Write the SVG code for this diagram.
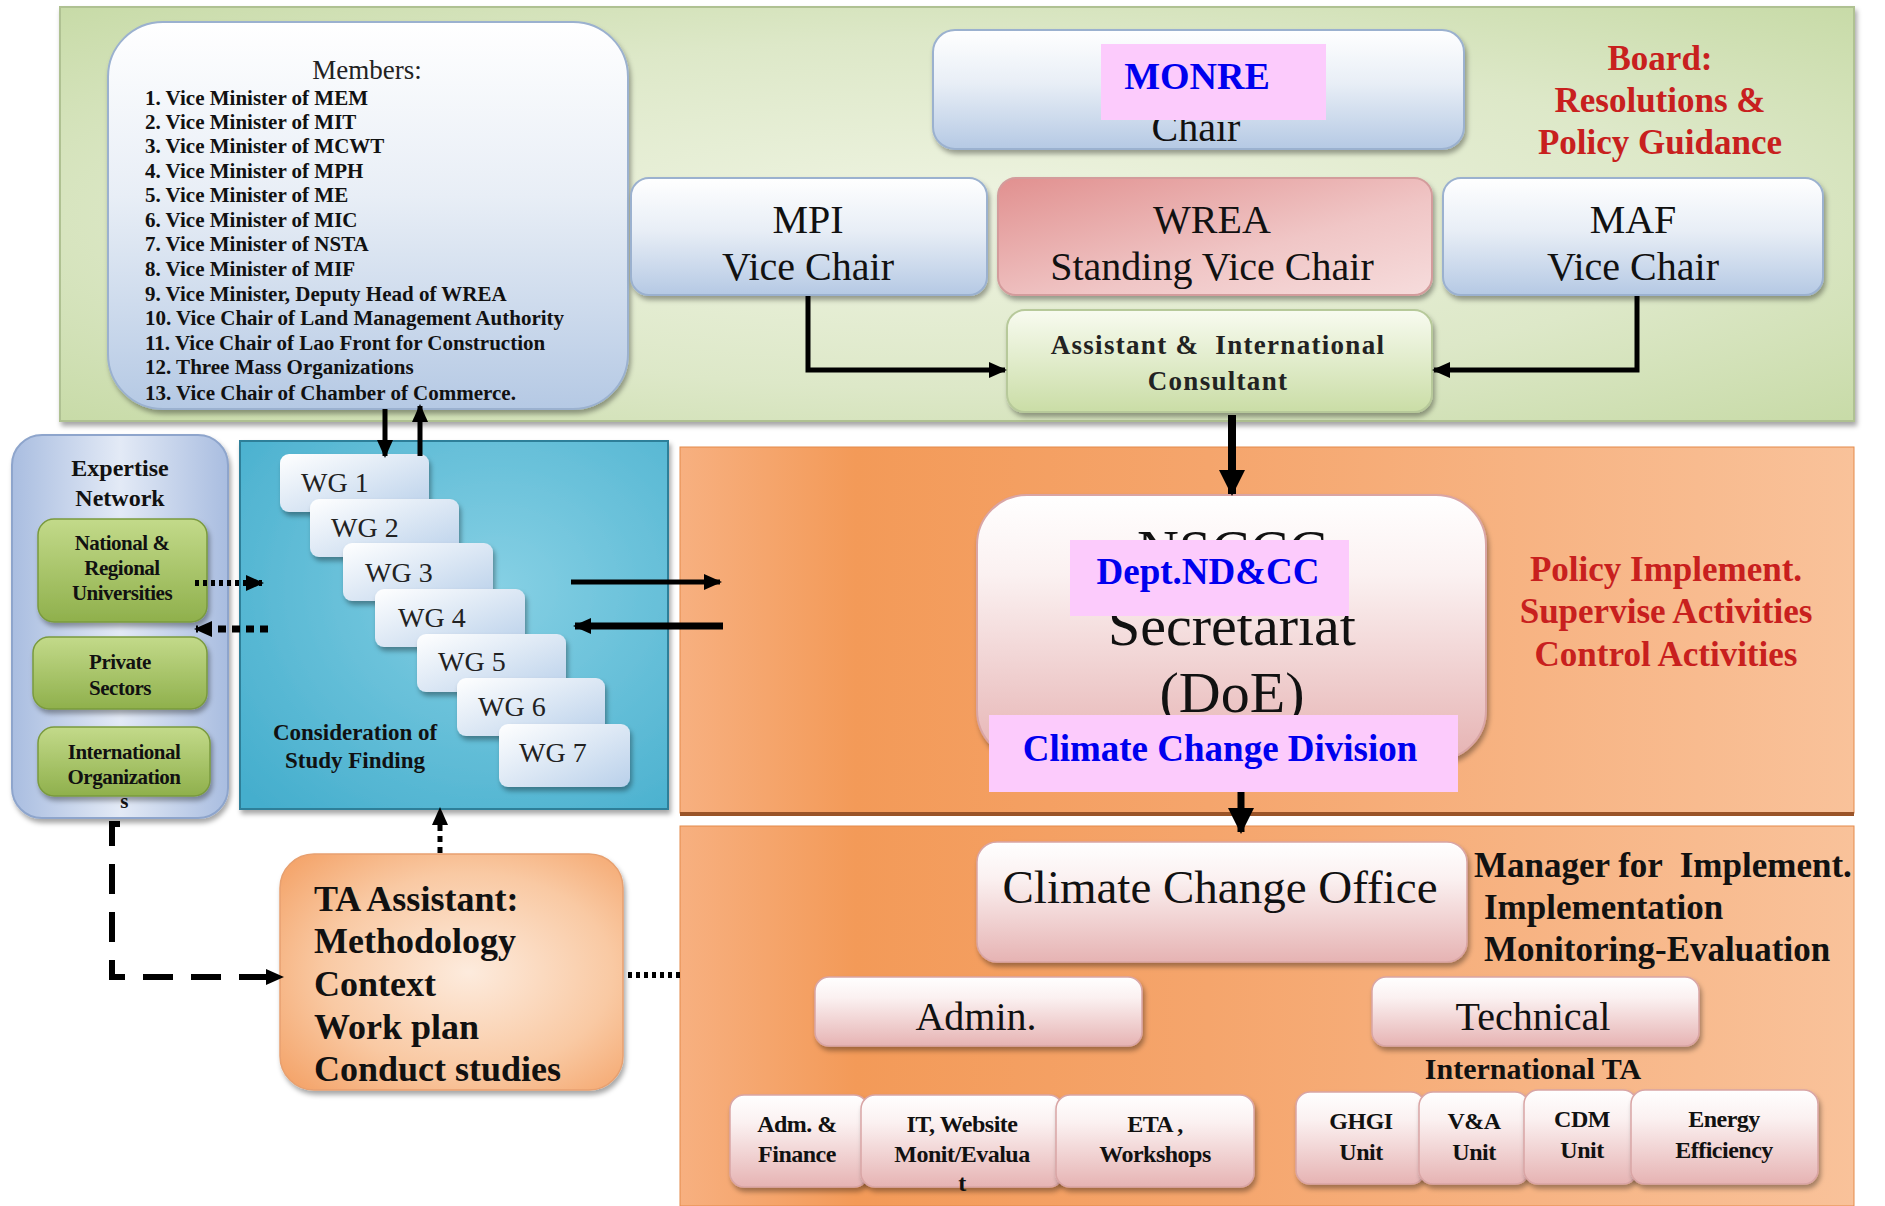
<svg xmlns="http://www.w3.org/2000/svg" width="1885" height="1206" viewBox="0 0 1885 1206">
<defs>
<style>
.sr{font-family:"Liberation Serif","Times New Roman",serif;}
.b{font-weight:bold;}
.c{text-anchor:middle;}
.pre{white-space:pre;}
.mem{font-family:"Liberation Serif",serif;font-weight:bold;font-size:21px;fill:#111;}
.big{font-family:"Liberation Serif",serif;font-size:40px;fill:#111;text-anchor:middle;}
.red{font-family:"Liberation Serif",serif;font-weight:bold;font-size:35px;fill:#C8201E;text-anchor:middle;}
.blue{font-family:"Liberation Serif",serif;font-weight:bold;fill:#0000EE;text-anchor:middle;}
.wg{font-family:"Liberation Serif",serif;font-size:28px;fill:#222;}
.unit{font-family:"Liberation Serif",serif;font-weight:bold;font-size:24px;fill:#111;text-anchor:middle;letter-spacing:-0.5px;}
.exp{font-family:"Liberation Serif",serif;font-weight:bold;font-size:21px;fill:#111;text-anchor:middle;letter-spacing:-0.5px;}
.ln{fill:none;stroke:#000;}
.sh{filter:url(#shadow);}
</style>
<filter id="shadow" x="-10%" y="-10%" width="125%" height="130%">
<feDropShadow dx="2" dy="4" stdDeviation="2.5" flood-color="#000" flood-opacity="0.35"/>
</filter>
<radialGradient id="gGreenPanel" cx="0.5" cy="0.5" r="0.7">
<stop offset="0" stop-color="#EFF4E2"/>
<stop offset="0.6" stop-color="#DDE8C8"/>
<stop offset="1" stop-color="#C8DBA8"/>
</radialGradient>
<linearGradient id="gOrange" x1="0" y1="0" x2="1" y2="0">
<stop offset="0" stop-color="#F7B080"/>
<stop offset="0.15" stop-color="#F39A58"/>
<stop offset="0.45" stop-color="#F5A56C"/>
<stop offset="1" stop-color="#F9C29A"/>
</linearGradient>
<linearGradient id="gBlue" x1="0" y1="0" x2="0" y2="1">
<stop offset="0" stop-color="#FFFFFF"/>
<stop offset="0.45" stop-color="#E8EEF6"/>
<stop offset="1" stop-color="#B5C9E4"/>
</linearGradient>
<linearGradient id="gWrea" x1="0" y1="0" x2="1" y2="1">
<stop offset="0" stop-color="#E1908F"/>
<stop offset="0.6" stop-color="#F0C6C6"/>
<stop offset="1" stop-color="#F6DCDC"/>
</linearGradient>
<linearGradient id="gAssist" x1="0" y1="0" x2="0" y2="1">
<stop offset="0" stop-color="#F8FBF0"/>
<stop offset="1" stop-color="#CADDA6"/>
</linearGradient>
<linearGradient id="gExpPanel" x1="0" y1="0" x2="1" y2="0">
<stop offset="0" stop-color="#A9BDE0"/>
<stop offset="0.5" stop-color="#E3EAF6"/>
<stop offset="1" stop-color="#A9BDE0"/>
</linearGradient>
<linearGradient id="gExpBox" x1="0" y1="0" x2="0" y2="1">
<stop offset="0" stop-color="#C3DA8A"/>
<stop offset="1" stop-color="#8FB04C"/>
</linearGradient>
<radialGradient id="gTeal" cx="0.6" cy="0.4" r="0.8">
<stop offset="0" stop-color="#86D0E4"/>
<stop offset="1" stop-color="#45AECD"/>
</radialGradient>
<linearGradient id="gWG" x1="0" y1="0" x2="1" y2="1">
<stop offset="0" stop-color="#FFFFFF"/>
<stop offset="1" stop-color="#B9D0EA"/>
</linearGradient>
<linearGradient id="gPink" x1="0" y1="0" x2="0" y2="1">
<stop offset="0" stop-color="#FFFFFF"/>
<stop offset="0.3" stop-color="#FBF1F1"/>
<stop offset="1" stop-color="#E6B3B3"/>
</linearGradient>
<radialGradient id="gPeach" cx="0.55" cy="0.5" r="0.7">
<stop offset="0" stop-color="#FDEBDD"/>
<stop offset="0.6" stop-color="#F9C9A3"/>
<stop offset="1" stop-color="#F4A46A"/>
</radialGradient>
<marker id="ah" markerUnits="userSpaceOnUse" markerWidth="18" markerHeight="16" refX="16" refY="8" orient="auto">
<path d="M0,0 L18,8 L0,16 z" fill="#000"/>
</marker>
<marker id="ahL" markerUnits="userSpaceOnUse" markerWidth="26" markerHeight="26" refX="24" refY="13" orient="auto">
<path d="M0,0 L26,13 L0,26 z" fill="#000"/>
</marker>
</defs>

<rect width="1885" height="1206" fill="#FFFFFF"/>

<!-- panels -->
<g id="board-panel">
<rect x="60" y="7" width="1794" height="414" fill="url(#gGreenPanel)" stroke="#AFC192" stroke-width="2" class="sh"/>
</g>
<g id="implement-panel">
<rect x="680" y="447" width="1174" height="366" fill="url(#gOrange)" stroke="#E48A4A" stroke-width="1"/>
<line x1="680" y1="814" x2="1854" y2="814" stroke="#9A5428" stroke-width="4"/>
</g>
<g id="office-panel">
<rect x="680" y="826" width="1174" height="380" fill="url(#gOrange)" stroke="#E48A4A" stroke-width="1"/>
</g>

<!-- Board nodes -->
<g id="members">
<rect x="108" y="22" width="520" height="387" rx="55" fill="url(#gBlue)" stroke="#9BB1CF" stroke-width="2" class="sh"/>
<text class="sr c" x="367" y="79" font-size="27" fill="#222">Members:</text>
<text class="mem" x="145" y="105">1. Vice Minister of MEM</text>
<text class="mem" x="145" y="129">2. Vice Minister of MIT</text>
<text class="mem" x="145" y="153">3. Vice Minister of MCWT</text>
<text class="mem" x="145" y="178">4. Vice Minister of MPH</text>
<text class="mem" x="145" y="202">5. Vice Minister of ME</text>
<text class="mem" x="145" y="227">6. Vice Minister of MIC</text>
<text class="mem" x="145" y="251">7. Vice Minister of NSTA</text>
<text class="mem" x="145" y="276">8. Vice Minister of MIF</text>
<text class="mem" x="145" y="301">9. Vice Minister, Deputy Head of WREA</text>
<text class="mem" x="145" y="325">10. Vice Chair of Land Management Authority</text>
<text class="mem" x="145" y="350">11. Vice Chair of Lao Front for Construction</text>
<text class="mem" x="145" y="374">12. Three Mass Organizations</text>
<text class="mem" x="145" y="400">13. Vice Chair of Chamber of Commerce.</text>
</g>

<g id="monre-chair">
<rect x="933" y="30" width="531" height="119" rx="22" fill="url(#gBlue)" stroke="#9BB1CF" stroke-width="2" class="sh"/>
<text class="big" x="1196" y="141" font-size="48">Chair</text>
<rect x="1101" y="44" width="225" height="76" fill="#FCCBFC"/>
<text class="blue" x="1197" y="89" font-size="38">MONRE</text>
</g>

<g id="board-label">
<text class="red" x="1660" y="70">Board:</text>
<text class="red" x="1660" y="112">Resolutions &amp;</text>
<text class="red" x="1660" y="154">Policy Guidance</text>
</g>

<g id="mpi">
<rect x="631" y="178" width="356" height="117" rx="18" fill="url(#gBlue)" stroke="#9BB1CF" stroke-width="2" class="sh"/>
<text class="big" x="808" y="233">MPI</text>
<text class="big" x="808" y="280">Vice Chair</text>
</g>
<g id="wrea">
<rect x="998" y="178" width="434" height="117" rx="18" fill="url(#gWrea)" stroke="#D39C9C" stroke-width="2" class="sh"/>
<text class="big" x="1212" y="233">WREA</text>
<text class="big" x="1212" y="280">Standing Vice Chair</text>
</g>
<g id="maf">
<rect x="1443" y="178" width="380" height="117" rx="18" fill="url(#gBlue)" stroke="#9BB1CF" stroke-width="2" class="sh"/>
<text class="big" x="1633" y="233">MAF</text>
<text class="big" x="1633" y="280">Vice Chair</text>
</g>
<g id="assistant">
<rect x="1007" y="310" width="425" height="102" rx="18" fill="url(#gAssist)" stroke="#B7C99A" stroke-width="2" class="sh"/>
<text class="sr b c pre" x="1218" y="354" font-size="27" letter-spacing="1.3" fill="#222">Assistant &amp;  International</text>
<text class="sr b c" x="1218" y="390" font-size="27" letter-spacing="1.3" fill="#222">Consultant</text>
</g>

<!-- Expertise network -->
<g id="expertise-network">
<rect x="12" y="435" width="216" height="383" rx="30" fill="url(#gExpPanel)" stroke="#8EA5CC" stroke-width="2" class="sh"/>
<text class="sr b c" x="120" y="476" font-size="24" fill="#111">Expertise</text>
<text class="sr b c" x="120" y="506" font-size="24" fill="#111">Network</text>
</g>
<g id="universities">
<rect x="38" y="519" width="169" height="103" rx="16" fill="url(#gExpBox)" stroke="#7A9A3E" stroke-width="1.5" class="sh"/>
<text class="exp" x="122" y="550">National &amp;</text>
<text class="exp" x="122" y="575">Regional</text>
<text class="exp" x="122" y="600">Universities</text>
</g>
<g id="private-sectors">
<rect x="33" y="637" width="174" height="72" rx="16" fill="url(#gExpBox)" stroke="#7A9A3E" stroke-width="1.5" class="sh"/>
<text class="exp" x="120" y="669">Private</text>
<text class="exp" x="120" y="695">Sectors</text>
</g>
<g id="intl-org">
<rect x="38" y="727" width="172" height="69" rx="16" fill="url(#gExpBox)" stroke="#7A9A3E" stroke-width="1.5" class="sh"/>
<text class="exp" x="124" y="759">International</text>
<text class="exp" x="124" y="784">Organization</text>
<text class="exp" x="124" y="808" font-size="15">s</text>
</g>

<!-- Working groups -->
<g id="wg-panel">
<rect x="240" y="441" width="428" height="368" fill="url(#gTeal)" stroke="#2E7F99" stroke-width="2" class="sh"/>
<text class="sr b c" x="355" y="740" font-size="23" fill="#111">Consideration of</text>
<text class="sr b c" x="355" y="768" font-size="23" fill="#111">Study Finding</text>
</g>
<g id="wg1"><rect x="280" y="454" width="149" height="58" rx="9" fill="url(#gWG)" class="sh"/><text class="wg" x="301" y="492">WG 1</text></g>
<g id="wg2"><rect x="310" y="499" width="149" height="58" rx="9" fill="url(#gWG)" class="sh"/><text class="wg" x="331" y="537">WG 2</text></g>
<g id="wg3"><rect x="343" y="543" width="150" height="58" rx="9" fill="url(#gWG)" class="sh"/><text class="wg" x="365" y="582">WG 3</text></g>
<g id="wg4"><rect x="375" y="589" width="150" height="58" rx="9" fill="url(#gWG)" class="sh"/><text class="wg" x="398" y="627">WG 4</text></g>
<g id="wg5"><rect x="417" y="634" width="149" height="58" rx="9" fill="url(#gWG)" class="sh"/><text class="wg" x="438" y="671">WG 5</text></g>
<g id="wg6"><rect x="457" y="678" width="148" height="58" rx="9" fill="url(#gWG)" class="sh"/><text class="wg" x="478" y="716">WG 6</text></g>
<g id="wg7"><rect x="499" y="724" width="131" height="63" rx="9" fill="url(#gWG)" class="sh"/><text class="wg" x="519" y="762">WG 7</text></g>

<!-- TA Assistant -->
<g id="ta-assistant">
<rect x="280" y="854" width="343" height="236" rx="34" fill="url(#gPeach)" stroke="#E7A070" stroke-width="1.5" class="sh"/>
<text class="sr b" x="314" y="911" font-size="36" fill="#111">TA Assistant:</text>
<text class="sr b" x="314" y="953" font-size="36" fill="#111">Methodology</text>
<text class="sr b" x="314" y="996" font-size="36" fill="#111">Context</text>
<text class="sr b" x="314" y="1039" font-size="36" fill="#111">Work plan</text>
<text class="sr b" x="314" y="1081" font-size="36" fill="#111">Conduct studies</text>
</g>

<!-- Secretariat -->
<g id="nsccc-secretariat">
<rect x="977" y="495" width="509" height="265" rx="50" fill="url(#gPink)" stroke="#D9A5A5" stroke-width="2" class="sh"/>
<text class="sr c" x="1232" y="570" font-size="58" fill="#111">NSCCC</text>
<text class="sr c" x="1232" y="645" font-size="58" fill="#111">Secretariat</text>
<text class="sr c" x="1232" y="712" font-size="58" fill="#111">(DoE)</text>
<rect x="1070" y="540" width="279" height="76" fill="#FCCBFC"/>
<text class="blue" x="1208" y="584" font-size="37">Dept.ND&amp;CC</text>
<rect x="989" y="715" width="469" height="77" fill="#FCCBFC"/>
<text class="blue" x="1220" y="761" font-size="37">Climate Change Division</text>
</g>
<g id="policy-label">
<text class="red" x="1666" y="581">Policy Implement.</text>
<text class="red" x="1666" y="623">Supervise Activities</text>
<text class="red" x="1666" y="666">Control Activities</text>
</g>

<!-- Office -->
<g id="climate-change-office">
<rect x="977" y="842" width="490" height="120" rx="20" fill="url(#gPink)" stroke="#D9A5A5" stroke-width="1.5" class="sh"/>
<text class="sr c" x="1220" y="903" font-size="47" fill="#111">Climate Change Office</text>
</g>
<g id="office-label">
<text class="sr b pre" x="1474" y="877" font-size="35" fill="#111">Manager for  Implement.</text>
<text class="sr b" x="1484" y="919" font-size="35" fill="#111">Implementation</text>
<text class="sr b" x="1484" y="961" font-size="35" fill="#111">Monitoring-Evaluation</text>
</g>
<g id="admin">
<rect x="815" y="977" width="327" height="69" rx="14" fill="url(#gPink)" stroke="#D9A5A5" stroke-width="1.5" class="sh"/>
<text class="big" x="976" y="1030">Admin.</text>
</g>
<g id="technical">
<rect x="1372" y="977" width="327" height="69" rx="14" fill="url(#gPink)" stroke="#D9A5A5" stroke-width="1.5" class="sh"/>
<text class="big" x="1533" y="1030">Technical</text>
</g>
<text class="sr b c" x="1533" y="1079" font-size="30" fill="#111">International TA</text>

<g id="adm-finance">
<rect x="730" y="1095" width="138" height="92" rx="14" fill="url(#gPink)" stroke="#D9A5A5" stroke-width="1.5" class="sh"/>
<text class="unit" x="797" y="1132">Adm. &amp;</text>
<text class="unit" x="797" y="1162">Finance</text>
</g>
<g id="it-website">
<rect x="861" y="1095" width="202" height="92" rx="14" fill="url(#gPink)" stroke="#D9A5A5" stroke-width="1.5" class="sh"/>
<text class="unit" x="962" y="1132">IT, Website</text>
<text class="unit" x="962" y="1162">Monit/Evalua</text>
<text class="unit" x="962" y="1191">t</text>
</g>
<g id="eta-workshops">
<rect x="1056" y="1095" width="198" height="92" rx="14" fill="url(#gPink)" stroke="#D9A5A5" stroke-width="1.5" class="sh"/>
<text class="unit" x="1155" y="1132">ETA ,</text>
<text class="unit" x="1155" y="1162">Workshops</text>
</g>
<g id="ghgi-unit">
<rect x="1296" y="1092" width="129" height="92" rx="14" fill="url(#gPink)" stroke="#D9A5A5" stroke-width="1.5" class="sh"/>
<text class="unit" x="1361" y="1129">GHGI</text>
<text class="unit" x="1361" y="1160">Unit</text>
</g>
<g id="va-unit">
<rect x="1419" y="1092" width="110" height="92" rx="14" fill="url(#gPink)" stroke="#D9A5A5" stroke-width="1.5" class="sh"/>
<text class="unit" x="1474" y="1129">V&amp;A</text>
<text class="unit" x="1474" y="1160">Unit</text>
</g>
<g id="cdm-unit">
<rect x="1524" y="1090" width="113" height="94" rx="14" fill="url(#gPink)" stroke="#D9A5A5" stroke-width="1.5" class="sh"/>
<text class="unit" x="1582" y="1127">CDM</text>
<text class="unit" x="1582" y="1158">Unit</text>
</g>
<g id="energy-efficiency">
<rect x="1631" y="1090" width="187" height="94" rx="14" fill="url(#gPink)" stroke="#D9A5A5" stroke-width="1.5" class="sh"/>
<text class="unit" x="1724" y="1127">Energy</text>
<text class="unit" x="1724" y="1158">Efficiency</text>
</g>

<!-- connectors -->
<g id="connectors">
<path class="ln" d="M808,296 V370 H1005" stroke-width="5" marker-end="url(#ah)"/>
<path class="ln" d="M1637,296 V370 H1434" stroke-width="5" marker-end="url(#ah)"/>
<path class="ln" d="M1232,415 V494" stroke-width="8" marker-end="url(#ahL)"/>
<path class="ln" d="M385,409 V456" stroke-width="5" marker-end="url(#ah)"/>
<path class="ln" d="M420,456 V406" stroke-width="5" marker-end="url(#ah)"/>
<path class="ln" d="M195,583 H262" stroke-width="6" stroke-dasharray="4,4" marker-end="url(#ah)"/>
<path class="ln" d="M268,629 H196" stroke-width="7" stroke-dasharray="8,6" marker-end="url(#ah)"/>
<path class="ln" d="M571,582 H720" stroke-width="5" marker-end="url(#ah)"/>
<path class="ln" d="M723,626 H575" stroke-width="7" marker-end="url(#ah)"/>
<path class="ln" d="M1241,792 V832" stroke-width="7" marker-end="url(#ahL)"/>
<path class="ln" d="M120,824 H112 V977 H282" stroke-width="6" stroke-dasharray="30,18" marker-end="url(#ah)"/>
<path class="ln" d="M440,853 V809" stroke-width="5" stroke-dasharray="6,5" marker-end="url(#ah)"/>
<path class="ln" d="M628,975 H680" stroke-width="6" stroke-dasharray="4,4"/>
</g>
</svg>
